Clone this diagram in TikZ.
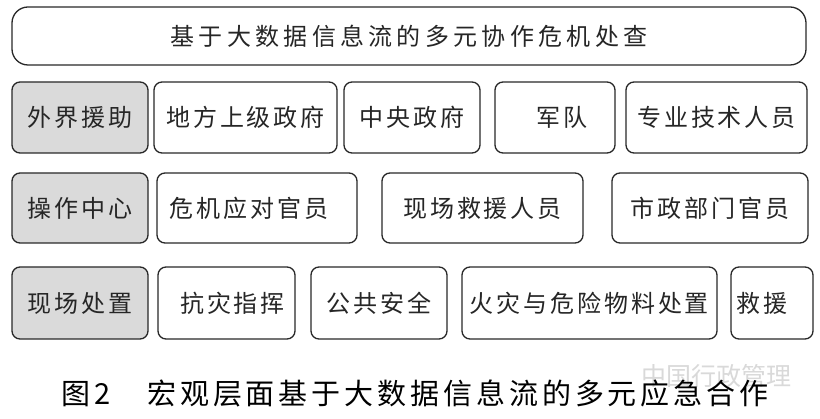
\documentclass[tikz,border=0pt]{standalone}
\usepackage{fontspec}
\setmainfont{Noto Sans CJK SC}
\newfontfamily\boxfont[LetterSpace=12]{Noto Sans CJK SC}
\newfontfamily\titlefont[LetterSpace=18]{Noto Sans CJK SC}
\newfontfamily\capfont[LetterSpace=13.5]{Noto Sans CJK SC}
\newfontfamily\wmfont{Noto Sans CJK SC}
\definecolor{grpfill}{RGB}{218,218,218}
\definecolor{boxline}{RGB}{40,40,40}
\begin{document}
\begin{tikzpicture}[x=1pt,y=-1pt,
  box/.style={draw=boxline, line width=1.3pt, rounded corners=8pt, inner sep=0pt,
    font=\boxfont\fontsize{24}{24}\selectfont, text=black!85},
  grp/.style={box, fill=grpfill},
  r1/.style={minimum height=71pt},
  r2/.style={minimum height=70pt},
  r3/.style={minimum height=72pt}]
\fill[white] (0,0) rectangle (820,419);
\useasboundingbox (0,0) rectangle (820,419);
% title
\node[box, rounded corners=16pt, minimum width=794pt, minimum height=58pt,
  font=\titlefont\fontsize{24}{24}\selectfont] (title) at (409,36) {基于大数据信息流的多元协作危机处查};
% row 1
\node[grp, r1, minimum width=136pt] (a1) at (80,117.5) {外界援助};
\node[box, r1, minimum width=183pt] (b1) at (245.5,117.5) {地方上级政府};
\node[box, r1, minimum width=136pt] (c1) at (412,117.5) {中央政府};
\node[box, r1, minimum width=120pt] (d1) at (555,117.5) {\hspace*{14pt}军队};
\node[box, r1, minimum width=181pt] (e1) at (716.5,117.5) {专业技术人员};
% row 2
\node[grp, r2, minimum width=136pt] (a2) at (80,208) {操作中心};
\node[box, r2, minimum width=200pt] (b2) at (257,208) {危机应对官员\hspace*{16pt}};
\node[box, r2, minimum width=201pt] (c2) at (482.5,208) {现场救援人员};
\node[box, r2, minimum width=196pt] (d2) at (710,208) {市政部门官员};
% row 3
\node[grp, r3, minimum width=136pt] (a3) at (80,303) {现场处置};
\node[box, r3, minimum width=137pt] (b3) at (226.5,303) {\hspace*{12pt}抗灾指挥};
\node[box, r3, minimum width=136pt] (c3) at (379,303) {公共安全};
\node[box, r3, minimum width=255pt] (d3) at (589.5,303) {火灾与危险物料处置};
\node[box, r3, minimum width=82pt] (e3) at (772,303) {救援\hspace*{20pt}};
% watermark
\node[inner sep=0pt, text=black!15, font=\wmfont\fontsize{25}{25}\selectfont] (wm) at (716,376) {中国行政管理};
% caption
\node[inner sep=0pt, anchor=west, font=\capfont\fontsize{29}{29}\selectfont] (cap) at (61,393.5) {图2\hspace{37pt}宏观层面基于大数据信息流的多元应急合作};
\end{tikzpicture}
\end{document}
